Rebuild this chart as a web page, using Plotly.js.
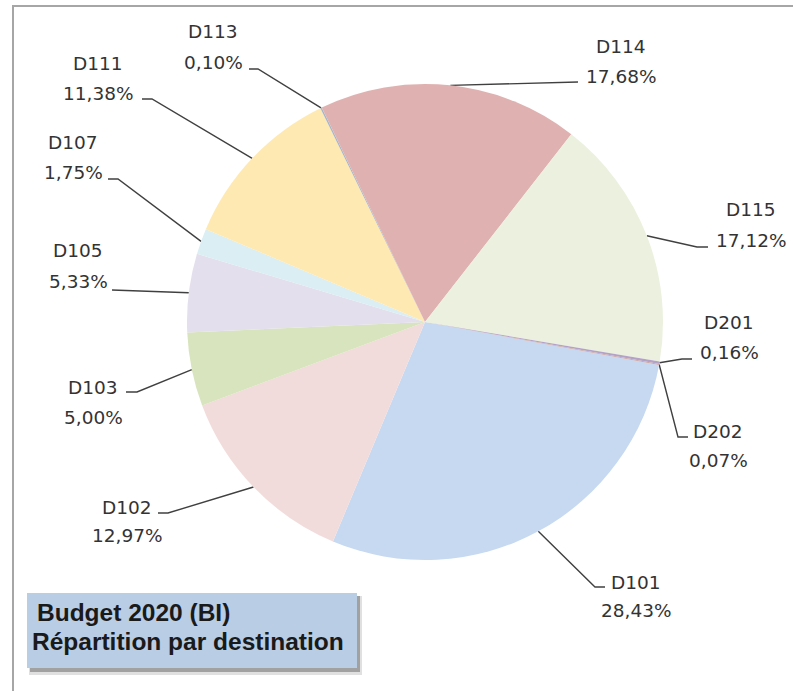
<!DOCTYPE html>
<html><head><meta charset="utf-8">
<script src="https://cdn.plot.ly/plotly-3.0.1.min.js"></script>
<style>html,body{margin:0;padding:0;background:#fff;} #chart{width:793px;height:691px;}</style>
</head><body><div id="chart"></div>
<script>
// ---- data ----
const categories = ['D101','D102','D103','D105','D107','D111','D113','D114','D115','D201','D202'];
const shares = [28.43, 12.97, 5.00, 5.33, 1.75, 11.38, 0.10, 17.68, 17.12, 0.16, 0.07];
const sliceColors = ['#C6D9F0','#F2DCDB','#D7E4BD','#E4DFEC','#DAEEF3','#FFE9B3','#A5B6CA','#DFB2B1','#EBF1DE','#B3A2C7','#C9A6A6'];
const titleLines = ['Budget 2020 (BI)', 'Répartition par destination'];

// ---- layout constants (pixels) ----
const W = 793, H = 691;
const cx = 425, cy = 322, R = 238;
const rotationDeg = 100.4;
const labelPos = {
  D101:{tx:636, ny:582, py:610, elbow:[595,587], end:[605,587]},
  D102:{tx:127, ny:507, py:535, elbow:[168,513], end:[158,513]},
  D103:{tx:93,  ny:387, py:417, elbow:[137,392], end:[126,392]},
  D105:{tx:78,  ny:250, py:281, elbow:[122,290], end:[112,290]},
  D107:{tx:73,  ny:142, py:172, elbow:[118,179], end:[108,179]},
  D111:{tx:98,  ny:63,  py:93,  elbow:[152,99],  end:[142,99]},
  D113:{tx:213, ny:31,  py:62,  elbow:[258,69],  end:[249,69]},
  D114:{tx:621, ny:46,  py:76,  elbow:[568,82],  end:[578,82]},
  D115:{tx:751, ny:209, py:240, elbow:[697,247], end:[708,247]},
  D201:{tx:729, ny:322, py:352, elbow:[682,359], end:[692,359]},
  D202:{tx:718, ny:431, py:460, elbow:[678,437], end:[688,437]}
};

const total = shares.reduce((a,b)=>a+b,0);
const traces = [{
  type:'pie', values:shares, labels:categories, sort:false, direction:'clockwise',
  rotation:rotationDeg, textinfo:'none', hoverinfo:'skip',
  marker:{colors:sliceColors, line:{width:0}},
  domain:{x:[(cx-R)/W,(cx+R)/W], y:[1-(cy+R)/H, 1-(cy-R)/H]},
  showlegend:false
}];

const annotations = [];
let cum = 0;
categories.forEach((c,i)=>{
  const mid = (cum + shares[i]/2)/total*2*Math.PI + rotationDeg*Math.PI/180;
  cum += shares[i];
  const rx = cx + R*Math.sin(mid), ry = cy - R*Math.cos(mid);
  const L = labelPos[c];
  traces.push({type:'scatter', mode:'lines', x:[rx, L.elbow[0], L.end[0]], y:[ry, L.elbow[1], L.end[1]],
    line:{color:'#404040', width:1.4}, hoverinfo:'skip', showlegend:false, xaxis:'x', yaxis:'y'});
  const f = {family:'DejaVu Sans, sans-serif', size:18.5, color:'#333333'};
  annotations.push({xref:'x', yref:'y', x:L.tx, y:L.ny, text:c, showarrow:false, xanchor:'center', yanchor:'middle', font:f});
  annotations.push({xref:'x', yref:'y', x:L.tx, y:L.py, text:shares[i].toFixed(2).replace('.',',')+'%', showarrow:false, xanchor:'center', yanchor:'middle', font:f});
});

const tf = {family:'Liberation Sans, Arial, sans-serif', size:24.5, color:'#1a1a1a'};
annotations.push({xref:'x', yref:'y', x:35, y:612, text:'<b>'+titleLines[0]+'</b>', showarrow:false, xanchor:'left', yanchor:'middle', font:tf});
annotations.push({xref:'x', yref:'y', x:30, y:641, text:'<b>'+titleLines[1]+'</b>', showarrow:false, xanchor:'left', yanchor:'middle', font:tf});

const shapes = [
  {type:'path', xref:'x', yref:'y', path:'M 13 700 L 13 6 L 800 6', line:{color:'#A6A6A6', width:2}},
  {type:'rect', xref:'x', yref:'y', x0:29, y0:596, x1:362, y1:675, fillcolor:'rgba(0,0,0,0.12)', line:{width:0}, layer:'below'},
  {type:'rect', xref:'x', yref:'y', x0:30, y0:596, x1:360, y1:672, fillcolor:'rgba(0,0,0,0.28)', line:{width:0}, layer:'below'},
  {type:'rect', xref:'x', yref:'y', x0:27, y0:593, x1:357, y1:668, fillcolor:'#B9CDE5', line:{width:0}, layer:'below'}
];

const layout = {
  width:W, height:H, margin:{l:0,r:0,t:0,b:0}, paper_bgcolor:'#ffffff', plot_bgcolor:'rgba(0,0,0,0)',
  xaxis:{range:[0,W], visible:false, fixedrange:true},
  yaxis:{range:[H,0], visible:false, fixedrange:true},
  showlegend:false, hovermode:false, annotations:annotations, shapes:shapes
};
Plotly.newPlot('chart', traces, layout, {displayModeBar:false, staticPlot:true});
</script></body></html>
